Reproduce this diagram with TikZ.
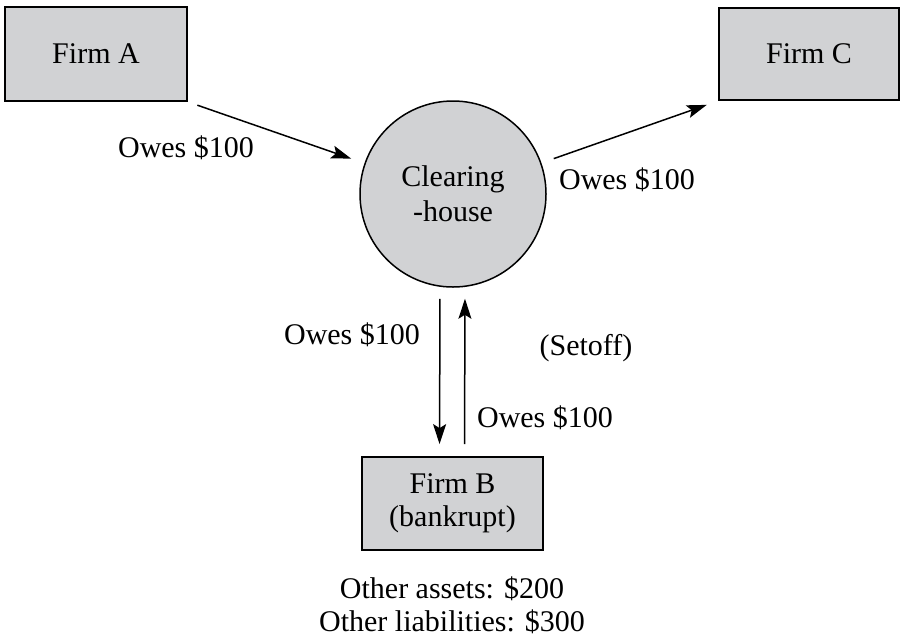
\documentclass[tikz,border=0pt]{standalone}
\usepackage{fontspec}
\setmainfont{Liberation Serif}
\usepackage{tikz}
\usetikzlibrary{shapes, positioning, arrows.meta}

\definecolor{boxgray}{HTML}{D1D2D4}

\begin{document}
\begin{tikzpicture}[x=1pt, y=-1pt,
        font=\fontsize{30}{34}\selectfont,
        firm/.style={rectangle, draw, line width=1.8pt, fill=boxgray, align=center},
        owes/.style={line width=1.5pt, -{Stealth[length=20pt, width=13pt, inset=4pt]}},
        lbl/.style={inner sep=0pt, align=center}]
        \useasboundingbox (0, 0) rectangle (901, 638);

        \node[firm, minimum width=182pt, minimum height=94pt] (firmA) at (96, 54) {Firm A};
        \node[firm, minimum width=180pt, minimum height=92pt] (firmC) at (809, 54) {Firm C};
        \node[firm, minimum width=181pt, minimum height=93pt] (firmB) at (452.5, 503.5) {Firm B\\[-1pt](bankrupt)};
        \node[circle, draw, line width=1.5pt, fill=boxgray, minimum size=186pt, inner sep=0pt,
            align=center] (ch) at (453, 194) {Clearing\\[1pt]-house};

        \node[lbl] (owesA) at (186, 148) {Owes \$100};
        \node[lbl] (owesC) at (627, 180) {Owes \$100};
        \node[lbl] (owesB) at (352, 335) {Owes \$100};
        \node[lbl] (owesCH) at (545, 418) {Owes \$100};
        \node[lbl] (setoff) at (586, 348) {(Setoff)};
        \node[lbl] (assets) at (452, 605) {Other assets: \$200\\[-1pt]Other liabilities: \$300};

        \draw[owes, shorten <=10pt, shorten >=14pt] (firmA.south east) -- (ch);
        \draw[owes, shorten <=13pt, shorten >=12pt] (ch) -- (firmC.south west);
        \draw[owes, shorten <=11pt, shorten >=12pt] ([xshift=-13pt]ch.south) -- ([xshift=-13pt]firmB.north);
        \draw[owes, shorten <=12pt, shorten >=11pt] ([xshift=12pt]firmB.north) -- ([xshift=12pt]ch.south);
    \end{tikzpicture}
\end{document}
